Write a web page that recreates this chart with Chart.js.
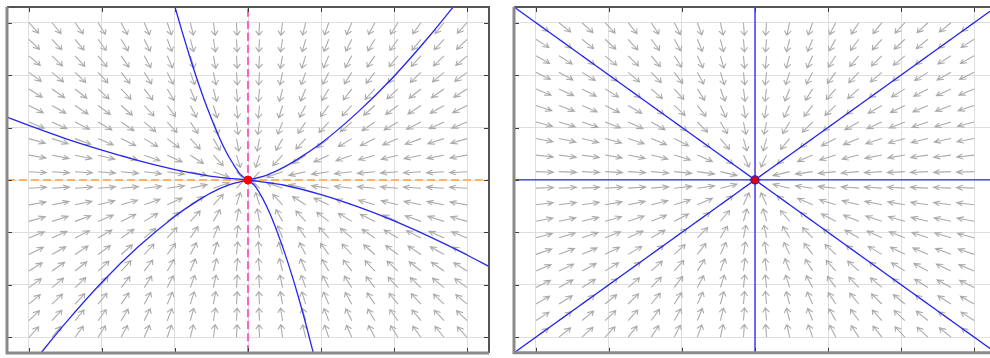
<!DOCTYPE html>
<html>
<head>
<meta charset="utf-8">
<script src="https://cdn.jsdelivr.net/npm/chart.js@4.4.1/dist/chart.umd.min.js"></script>
<style>
  html, body { margin: 0; padding: 0; background: #fff; overflow: hidden; }
  body { width: 990px; height: 358px; position: relative; }
  canvas { position: absolute; top: 0; }
  #leftPlot { left: 0; }
  #rightPlot { left: 507px; }
</style>
</head>
<body>
<canvas id="leftPlot" width="495" height="358"></canvas>
<canvas id="rightPlot" width="495" height="358"></canvas>
<script>
// Axis limits and grid ticks (same for both panels)
const axisMin = -3.3;
const axisMax = 3.3;
const gridTicks = [-3, -2, -1, 0, 1, 2, 3];

// Quiver sample points (20 x 20 grid)
const quiverX = [-3, -2.6842, -2.3684, -2.0526, -1.7368, -1.4211, -1.1053, -0.7895, -0.4737, -0.1579,
                 0.1579, 0.4737, 0.7895, 1.1053, 1.4211, 1.7368, 2.0526, 2.3684, 2.6842, 3];
const quiverY = [-3, -2.6842, -2.3684, -2.0526, -1.7368, -1.4211, -1.1053, -0.7895, -0.4737, -0.1579,
                 0.1579, 0.4737, 0.7895, 1.1053, 1.4211, 1.7368, 2.0526, 2.3684, 2.6842, 3];

// Eigenvalues (x rate, y rate) of the two linear systems
const leftRates = [-1, -1.5];
const rightRates = [-1, -1];

// Fixed point
const fixedX = [0];
const fixedY = [0];

// Left panel trajectories
const trajAX = [-1.02, -0.9, -0.8, -0.7, -0.6, -0.5, -0.4, -0.3, -0.2, -0.1, 0];
const trajAY = [3.4, 2.82, 2.36, 1.93, 1.53, 1.17, 0.83, 0.54, 0.3, 0.1, 0];
const trajBX = [0, 0.25, 0.5, 0.75, 1, 1.5, 2, 2.5, 2.85];
const trajBY = [0, 0.09, 0.25, 0.46, 0.7, 1.29, 1.98, 2.77, 3.37];
const trajCX = [-3.3, -3, -2.5, -2, -1.5, -1, -0.5, 0];
const trajCY = [1.2, 1.04, 0.79, 0.57, 0.37, 0.2, 0.07, 0];
const trajDX = [0, 0.5, 1, 1.5, 2, 2.5, 3, 3.3];
const trajDY = [0, -0.1, -0.28, -0.51, -0.78, -1.09, -1.43, -1.65];
const trajEX = [-2.9, -2.5, -2, -1.5, -1, -0.75, -0.5, -0.25, 0];
const trajEY = [-3.41, -2.73, -1.95, -1.27, -0.69, -0.45, -0.24, -0.09, 0];
const trajFX = [0, 0.1, 0.2, 0.3, 0.4, 0.5, 0.6, 0.7, 0.8, 0.9];
const trajFY = [0, -0.12, -0.35, -0.64, -0.99, -1.38, -1.81, -2.28, -2.79, -3.33];

// Left panel eigenvector lines
const eigVertX = [0, 0];
const eigVertY = [-3.3, 3.3];
const eigHorzX = [-3.3, 3.3];
const eigHorzY = [0, 0];

// Right panel straight trajectories
const diagUpX = [-3.3, 3.3];
const diagUpY = [-3.3, 3.3];
const diagDownX = [-3.3, 3.3];
const diagDownY = [3.3, -3.3];
const lineHX = [-3.3, 3.3];
const lineHY = [0, 0];
const lineVX = [0, 0];
const lineVY = [-3.3, 3.3];

const BLUE = '#2626f2';

function pts(xs, ys) {
    return xs.map((x, i) => ({ x: x, y: ys[i] }));
}

// Draws the direction field as normalized arrows (tail at grid point)
const quiverPlugin = {
    id: 'quiver',
    beforeDatasetsDraw(chart, args, opts) {
        const ctx = chart.ctx;
        const sx = chart.scales.x, sy = chart.scales.y;
        const area = chart.chartArea;
        const L = opts.length, alpha = 0.35, beta = 0.55;
        ctx.save();
        ctx.beginPath();
        ctx.rect(area.left, area.top, area.right - area.left, area.bottom - area.top);
        ctx.clip();
        ctx.strokeStyle = opts.color;
        ctx.lineWidth = 1.1;
        ctx.beginPath();
        quiverX.forEach(x => {
            quiverY.forEach(y => {
                let u = opts.rates[0] * x, v = opts.rates[1] * y;
                const n = Math.hypot(u, v);
                if (n === 0) return;
                u = L * u / n; v = L * v / n;
                const tx = x + u, ty = y + v;
                const h1x = tx - alpha * (u + beta * v), h1y = ty - alpha * (v - beta * u);
                const h2x = tx - alpha * (u - beta * v), h2y = ty - alpha * (v + beta * u);
                ctx.moveTo(sx.getPixelForValue(x), sy.getPixelForValue(y));
                ctx.lineTo(sx.getPixelForValue(tx), sy.getPixelForValue(ty));
                ctx.moveTo(sx.getPixelForValue(h1x), sy.getPixelForValue(h1y));
                ctx.lineTo(sx.getPixelForValue(tx), sy.getPixelForValue(ty));
                ctx.lineTo(sx.getPixelForValue(h2x), sy.getPixelForValue(h2y));
            });
        });
        ctx.stroke();
        ctx.restore();
    }
};

// Axes box with inward tick marks on all four sides
const framePlugin = {
    id: 'frame',
    afterDraw(chart) {
        const ctx = chart.ctx;
        const a = chart.chartArea;
        const sx = chart.scales.x, sy = chart.scales.y;
        ctx.save();
        ctx.strokeStyle = '#3c3c3c';
        ctx.lineWidth = 1;
        ctx.beginPath();
        gridTicks.forEach(t => {
            const px = Math.round(sx.getPixelForValue(t)) + 0.5;
            const py = Math.round(sy.getPixelForValue(t)) + 0.5;
            ctx.moveTo(px, a.top); ctx.lineTo(px, a.top + 5);
            ctx.moveTo(px, a.bottom); ctx.lineTo(px, a.bottom - 5);
            ctx.moveTo(a.left, py); ctx.lineTo(a.left + 5, py);
            ctx.moveTo(a.right, py); ctx.lineTo(a.right - 5, py);
        });
        ctx.stroke();
        // top and right edges
        ctx.strokeStyle = '#555';
        ctx.lineWidth = 2;
        ctx.beginPath();
        ctx.moveTo(a.left, a.top); ctx.lineTo(a.right, a.top); ctx.lineTo(a.right, a.bottom);
        ctx.stroke();
        // left and bottom edges
        ctx.strokeStyle = '#8a8a8a';
        ctx.lineWidth = 3;
        ctx.beginPath();
        ctx.moveTo(a.left, a.top); ctx.lineTo(a.left, a.bottom); ctx.lineTo(a.right, a.bottom);
        ctx.stroke();
        ctx.restore();
    }
};

function axisOpts() {
    return {
        type: 'linear',
        min: axisMin,
        max: axisMax,
        afterBuildTicks: s => { s.ticks = gridTicks.map(v => ({ value: v })); },
        ticks: { display: false },
        grid: { color: '#dedede', lineWidth: 1, drawTicks: false },
        border: { display: false }
    };
}

function curve(xs, ys, color, dash, width) {
    return {
        data: pts(xs, ys),
        showLine: true,
        borderColor: color,
        borderWidth: width || 1.3,
        borderDash: dash || [],
        pointRadius: 0,
        fill: false,
        cubicInterpolationMode: 'monotone'
    };
}

function makeChart(id, datasets, rates) {
    return new Chart(document.getElementById(id), {
        type: 'scatter',
        data: { datasets: datasets },
        options: {
            responsive: false,
            animation: false,
            layout: { padding: { left: 7, top: 7, right: 6, bottom: 4 } },
            scales: { x: axisOpts(), y: axisOpts() },
            plugins: {
                legend: { display: false },
                tooltip: { enabled: false },
                quiver: { rates: rates, length: 0.24, color: '#ababab' }
            }
        },
        plugins: [quiverPlugin, framePlugin]
    });
}

// Left panel: stable node with unequal eigenvalues
makeChart('leftPlot', [
    {
        data: pts(fixedX, fixedY),
        pointRadius: 4,
        pointBackgroundColor: '#ff0000',
        pointBorderColor: '#ff0000',
        pointBorderWidth: 1
    },
    curve(trajAX, trajAY, BLUE),
    curve(trajBX, trajBY, BLUE),
    curve(trajCX, trajCY, BLUE),
    curve(trajDX, trajDY, BLUE),
    curve(trajEX, trajEY, BLUE),
    curve(trajFX, trajFY, BLUE),
    curve(eigVertX, eigVertY, '#ff5fc8', [8, 4], 2),
    curve(eigHorzX, eigHorzY, '#ffb366', [8, 4], 2)
], leftRates);

// Right panel: star node
makeChart('rightPlot', [
    {
        data: pts(fixedX, fixedY),
        pointRadius: 4,
        pointBackgroundColor: '#e00010',
        pointBorderColor: '#3020b0',
        pointBorderWidth: 1.2
    },
    curve(diagUpX, diagUpY, BLUE),
    curve(diagDownX, diagDownY, BLUE),
    curve(lineHX, lineHY, BLUE),
    curve(lineVX, lineVY, BLUE)
], rightRates);
</script>
</body>
</html>
